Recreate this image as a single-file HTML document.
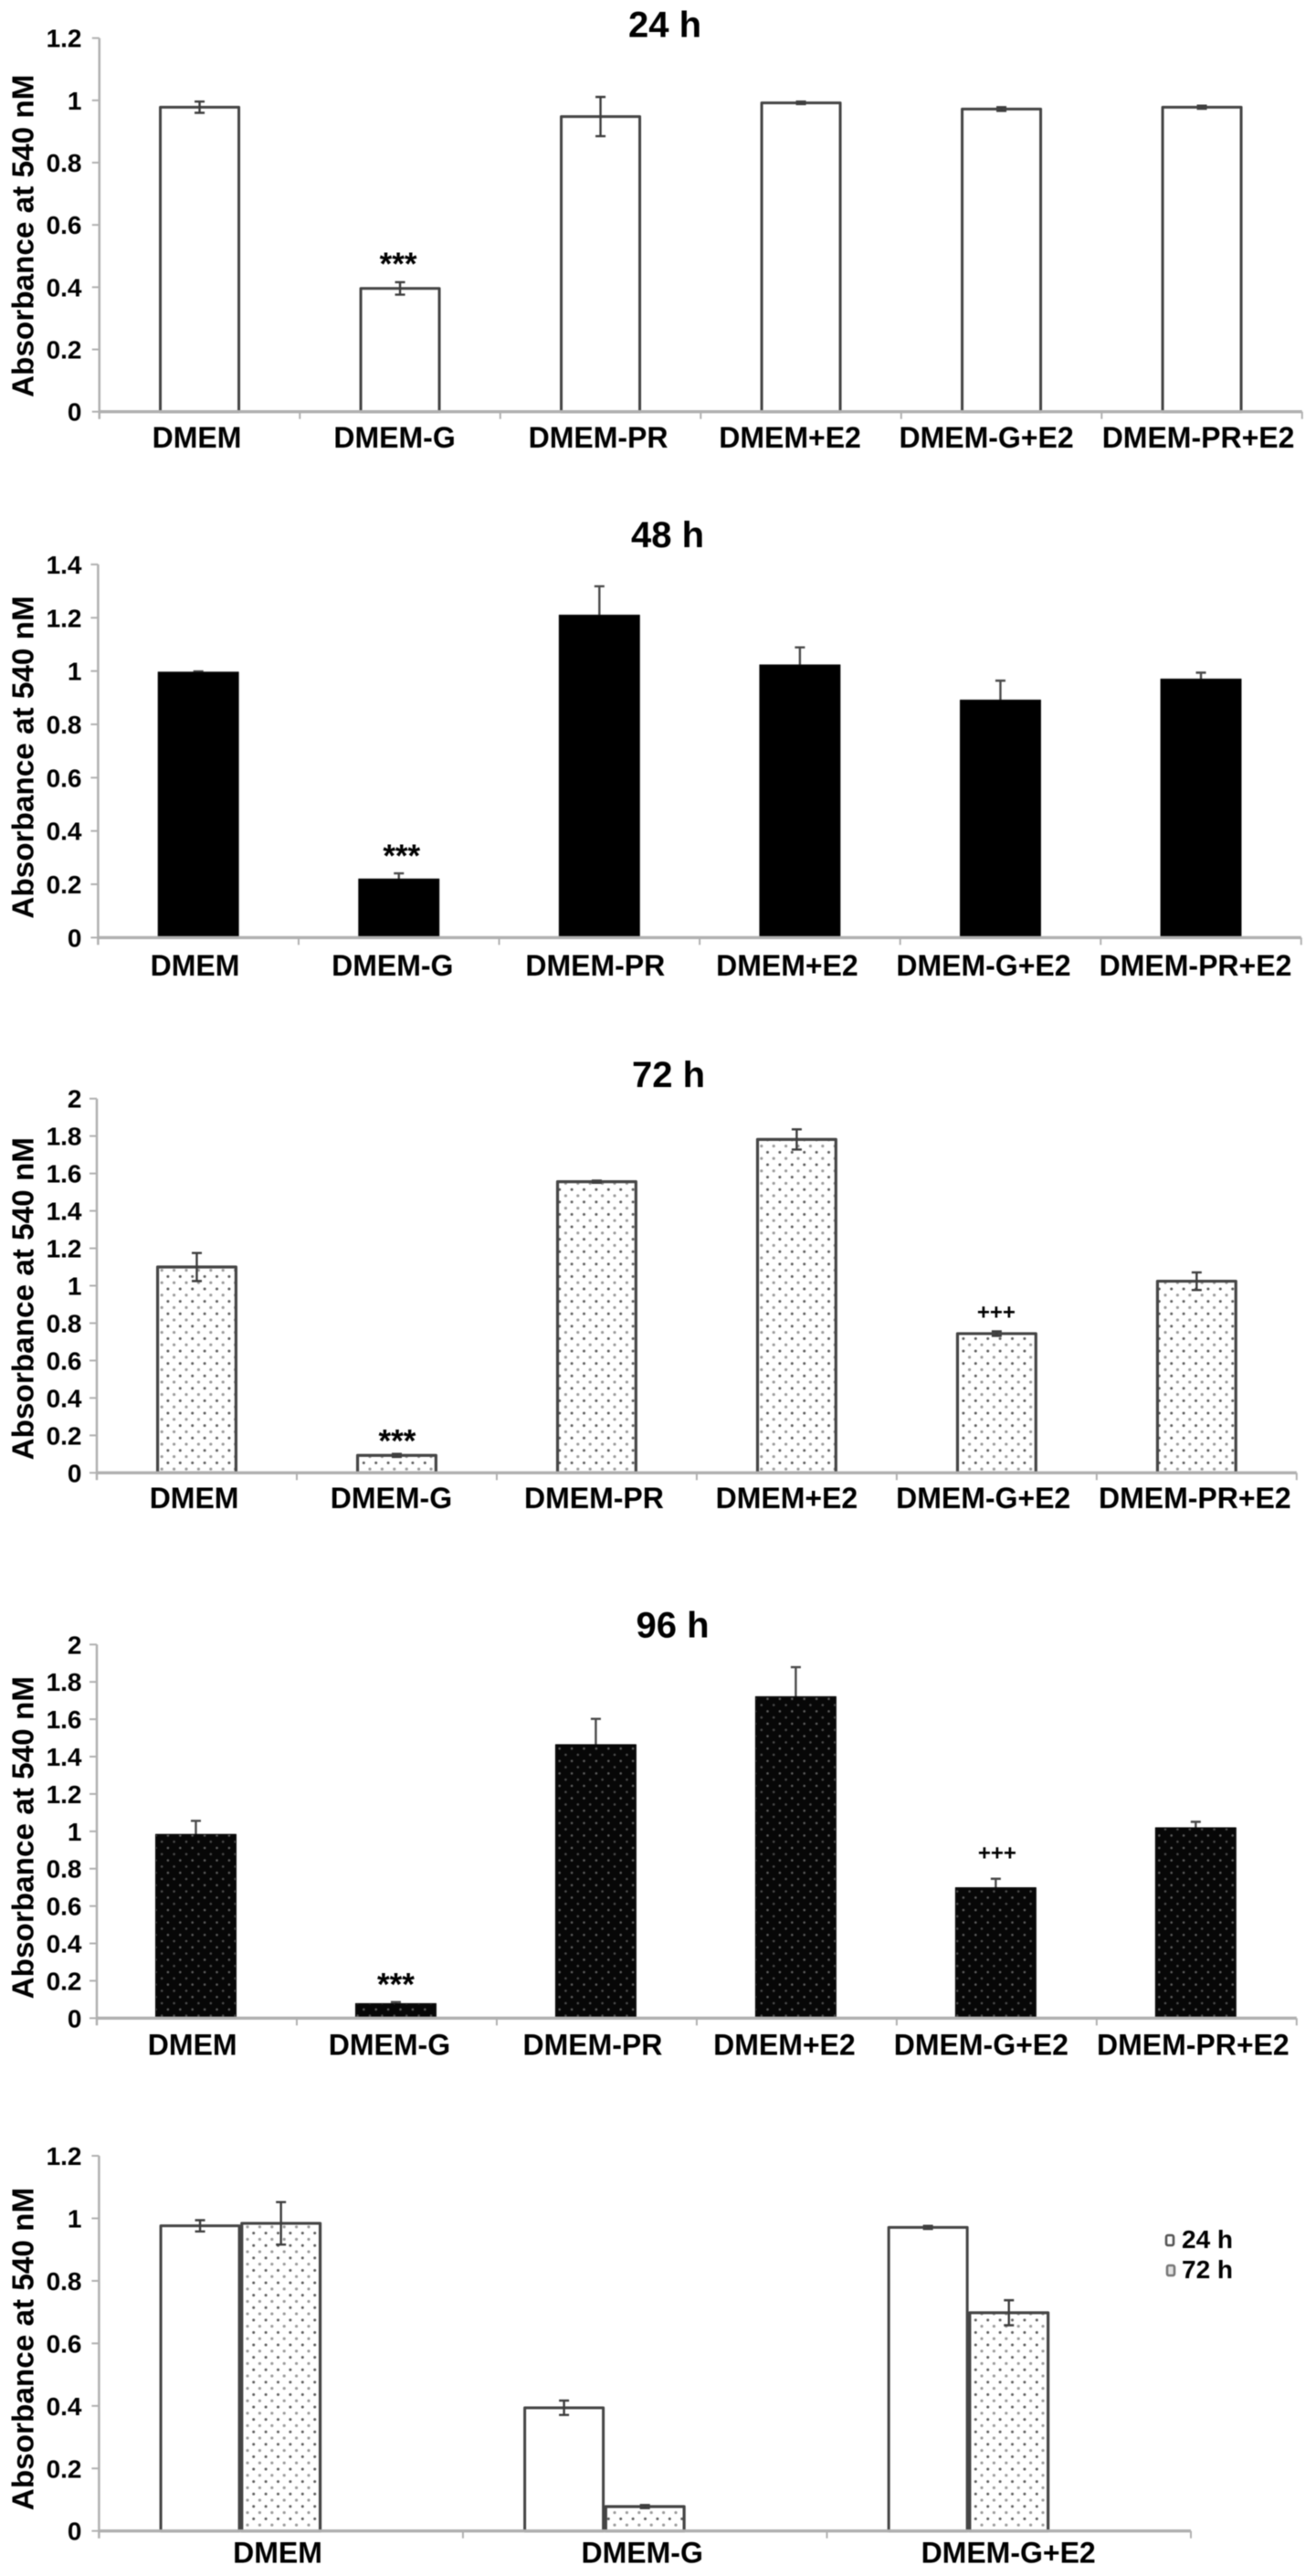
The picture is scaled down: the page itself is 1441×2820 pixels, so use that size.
<!DOCTYPE html>
<html lang="en">
<head>
<meta charset="utf-8">
<title>Absorbance at 540 nM over time</title>
<style>
html,body{margin:0;padding:0;background:#fff;}
svg{display:block;filter:blur(0.5px);}
text{font-family:"Liberation Sans",Arial,sans-serif;font-weight:bold;fill:#000;}
</style>
</head>
<body>
<svg id="figure" xmlns="http://www.w3.org/2000/svg" width="1441" height="2820" viewBox="0 0 1441 2820">
  <defs>
    <pattern id="dots-light" patternUnits="userSpaceOnUse" width="13.4" height="13.6">
      <rect width="13.4" height="13.6" fill="#fff"/>
      <circle cx="3" cy="3.4" r="1.6" fill="#9a9a9a"/>
      <circle cx="9.7" cy="10.2" r="1.5" fill="#5c5c5c"/>
    </pattern>
    <pattern id="dots-dark" patternUnits="userSpaceOnUse" width="13.4" height="13.6">
      <rect width="13.4" height="13.6" fill="#070707"/>
      <circle cx="3" cy="3.4" r="1.3" fill="#4c4c4c"/>
      <circle cx="9.7" cy="10.2" r="1.3" fill="#5e5e5e"/>
    </pattern>
  </defs>
</svg>
<script>
// ---- Chart data ----
const categoriesSix = ['DMEM', 'DMEM-G', 'DMEM-PR', 'DMEM+E2', 'DMEM-G+E2', 'DMEM-PR+E2'];
const categoriesThree = ['DMEM', 'DMEM-G', 'DMEM-G+E2'];

const ticks24h = ['0', '0.2', '0.4', '0.6', '0.8', '1', '1.2'];
const ticks48h = ['0', '0.2', '0.4', '0.6', '0.8', '1', '1.2', '1.4'];
const ticks72h = ['0', '0.2', '0.4', '0.6', '0.8', '1', '1.2', '1.4', '1.6', '1.8', '2'];
const ticks96h = ['0', '0.2', '0.4', '0.6', '0.8', '1', '1.2', '1.4', '1.6', '1.8', '2'];
const ticksCompare = ['0', '0.2', '0.4', '0.6', '0.8', '1', '1.2'];

const values24h = [0.978, 0.396, 0.948, 0.992, 0.972, 0.978];
const errors24h = [0.018, 0.020, 0.063, 0.004, 0.006, 0.005];

const values48h = [0.996, 0.220, 1.210, 1.023, 0.891, 0.970];
const errors48h = [0.003, 0.021, 0.108, 0.066, 0.073, 0.024];

const values72h = [1.100, 0.093, 1.556, 1.782, 0.744, 1.024];
const errors72h = [0.075, 0.008, 0.006, 0.054, 0.012, 0.047];

const values96h = [0.984, 0.078, 1.464, 1.721, 0.698, 1.019];
const errors96h = [0.072, 0.008, 0.138, 0.158, 0.048, 0.032];

const compareValues24h = [0.976, 0.394, 0.971];
const compareErrors24h = [0.018, 0.023, 0.005];
const compareValues72h = [0.984, 0.078, 0.698];
const compareErrors72h = [0.068, 0.005, 0.040];

const legendLabels = ['24 h', '72 h'];

// ---- Rendering ----
const SVG_NS = 'http://www.w3.org/2000/svg';
const root = document.getElementById('figure');

function make(tag, attrs, parent, content) {
  const node = document.createElementNS(SVG_NS, tag);
  for (const key in attrs) node.setAttribute(key, attrs[key]);
  if (content !== undefined) node.textContent = content;
  parent.appendChild(node);
  return node;
}

function drawPanel(panel) {
  const group = make('g', {}, root);
  
  

  const catWidth = (panel.xEnd - panel.xStart) / panel.categories.length;
  const yTickMax = parseFloat(panel.ticks[panel.ticks.length - 1]);
  const yScale = function (v) { return panel.yZero - (v / yTickMax) * (panel.yZero - panel.yTop); };
  const catStart = function (i) { return panel.xStart + i * catWidth; };
  const catCenter = function (i) { return catStart(i) + catWidth / 2; };
  const barCenter = function (i, s) { return catCenter(i) + panel.barShift + (s - (panel.slots - 1) / 2) * panel.barSlot; };

  if (panel.title) {
    const title = make('text', { x: panel.titleX, y: panel.titleY, 'text-anchor': 'middle', 'font-size': 40 }, group, panel.title);
    
    
  }

  const yTitle = make('text', { transform: 'translate(36.5 ' + panel.yTitleY + ') rotate(-90)', 'text-anchor': 'middle', 'font-size': 33.3 }, group, 'Absorbance at 540 nM');
  
  

  function drawError(seriesIndex, catIndex, value, err, color) {
    const x = barCenter(catIndex, seriesIndex);
    const capW = 5.5;
    const d = 'M' + x + ' ' + yScale(value + err) + 'V' + yScale(value - err) +
      'M' + (x - capW) + ' ' + yScale(value + err) + 'H' + (x + capW) +
      'M' + (x - capW) + ' ' + yScale(value - err) + 'H' + (x + capW);
    const bar = make('path', { d: d, stroke: color, 'stroke-width': 2.4, fill: 'none' }, group);
    
    
  }

  panel.series.forEach(function (series, s) {
    series.values.forEach(function (value, i) {
      const cx = barCenter(i, s);
      const top = yScale(value);
      if (series.dark) drawError(s, i, value, series.errors[i], '#4a4a4a');
      const inset = series.strokeWidth / 2;
      const rect = make('rect', {
        x: cx - panel.barWidth / 2 + inset, y: top,
        width: panel.barWidth - series.strokeWidth, height: panel.yZero - top,
        fill: series.fill, stroke: series.stroke, 'stroke-width': series.strokeWidth, 'stroke-linejoin': 'round'
      }, group);
      
      
    });
  });
  panel.series.forEach(function (series, s) {
    if (series.dark) return;
    series.values.forEach(function (value, i) {
      drawError(s, i, value, series.errors[i], '#3d3d3d');
    });
  });

  // axes
  const yAxis = make('line', { x1: panel.xStart, x2: panel.xStart, y1: panel.yTop, y2: panel.yZero + 8, stroke: '#b0b0b0', 'stroke-width': 2.5 }, group);
  
  
  const xAxis = make('line', { x1: panel.xStart, x2: panel.xEnd, y1: panel.yZero, y2: panel.yZero, stroke: '#b0b0b0', 'stroke-width': 3.4 }, group);
  
  

  panel.ticks.forEach(function (label) {
    const y = yScale(parseFloat(label));
    const tick = make('line', { x1: panel.xStart - 8, x2: panel.xStart, y1: y, y2: y, stroke: '#b0b0b0', 'stroke-width': 2 }, group);
    
    
    const text = make('text', { x: 89.5, y: y + 10, 'text-anchor': 'end', 'font-size': 28 }, group, label);
    
    
  });

  for (let i = 1; i <= panel.categories.length; i++) {
    const tx = catStart(i);
    const tick = make('line', { x1: tx, x2: tx, y1: panel.yZero, y2: panel.yZero + 8, stroke: '#b0b0b0', 'stroke-width': 2 }, group);
    
    
  }

  panel.categories.forEach(function (label, i) {
    const text = make('text', { x: catCenter(i) + panel.labelNudge[i], y: panel.labelY, 'text-anchor': 'middle', 'font-size': 32 }, group, label);
    
    
  });

  (panel.marks || []).forEach(function (mark) {
    const series = panel.series[0];
    const y = yScale(series.values[mark.cat] + series.errors[mark.cat]) - mark.gap;
    const text = make('text', { x: catCenter(mark.cat) + mark.dx, y: y, 'text-anchor': 'middle', 'font-size': mark.size }, group, mark.text);
    
    
  });
}

const lightBar = { fill: 'url(#dots-light)', stroke: '#444', strokeWidth: 3.2, dark: false };
const darkBar = { fill: 'url(#dots-dark)', stroke: '#0a0a0a', strokeWidth: 1, dark: true };

drawPanel({
  id: '24h', title: '24 h', titleX: 728, titleY: 40.7, yTitleY: 258.3,
  xStart: 108.8, xEnd: 1425.8, yZero: 450.7, yTop: 41.7, labelY: 490,
  barWidth: 89, barSlot: 89, slots: 1, barShift: 0,
  labelNudge: [-3, -6, -2.5, -12, -16.5, -4],
  categories: categoriesSix, ticks: ticks24h,
  series: [{ values: values24h, errors: errors24h, fill: '#fff', stroke: '#444', strokeWidth: 3, dark: false }],
  marks: [{ cat: 1, text: '***', size: 35, dx: -2, gap: 8 }]
});
drawPanel({
  id: '48h', title: '48 h', titleX: 731, titleY: 599, yTitleY: 829,
  xStart: 107.4, xEnd: 1424.8, yZero: 1026.4, yTop: 617.9, labelY: 1067.9,
  barWidth: 89, barSlot: 89, slots: 1, barShift: 0,
  labelNudge: [-3.7, -7, -4.5, -14, -18.5, -6],
  categories: categoriesSix, ticks: ticks48h,
  series: [{ values: values48h, errors: errors48h, fill: '#000', stroke: '#111', strokeWidth: 1, dark: true }],
  marks: [{ cat: 1, text: '***', size: 35, dx: 3, gap: 7 }]
});
drawPanel({
  id: '72h', title: '72 h', titleX: 732, titleY: 1190, yTitleY: 1421.7,
  xStart: 106, xEnd: 1419.8, yZero: 1612.3, yTop: 1202.7, labelY: 1651,
  barWidth: 89, barSlot: 89, slots: 1, barShift: 0,
  labelNudge: [-2.9, -6, -3, -11, -14.7, -2],
  categories: categoriesSix, ticks: ticks72h,
  series: [Object.assign({ values: values72h, errors: errors72h }, lightBar)],
  marks: [
    { cat: 1, text: '***', size: 35, dx: 0.5, gap: 2.2 },
    { cat: 4, text: '+++', size: 24, dx: -0.5, gap: 13.2 }
  ]
});
drawPanel({
  id: '96h', title: '96 h', titleX: 736.5, titleY: 1792.7, yTitleY: 2011.7,
  xStart: 106, xEnd: 1419.8, yZero: 2209.3, yTop: 1800.3, labelY: 2249.3,
  barWidth: 89, barSlot: 89, slots: 1, barShift: -1,
  labelNudge: [-4.8, -8, -4.5, -13.5, -17, -4],
  categories: categoriesSix, ticks: ticks96h,
  series: [Object.assign({ values: values96h, errors: errors96h }, darkBar)],
  marks: [
    { cat: 1, text: '***', size: 35, dx: -1, gap: 7.3 },
    { cat: 4, text: '+++', size: 24, dx: 0.5, gap: 20 }
  ]
});
drawPanel({
  id: 'comparison', title: '', yTitleY: 2571.5,
  xStart: 108.4, xEnd: 1304, yZero: 2770.7, yTop: 2360, labelY: 2805.7,
  barWidth: 89, barSlot: 88.6, slots: 3, barShift: 0,
  labelNudge: [-3.7, -3, -0.6],
  categories: categoriesThree, ticks: ticksCompare,
  series: [
    { values: compareValues24h, errors: compareErrors24h, fill: '#fff', stroke: '#444', strokeWidth: 3, dark: false },
    Object.assign({ values: compareValues72h, errors: compareErrors72h }, lightBar)
  ]
});

// legend
const legend = make('g', {}, root);


legendLabels.forEach(function (label, i) {
  const rowY = 2461 + i * 33;
  const swatch = make('rect', {
    x: 1277 + i, y: rowY - 14, width: 8, height: 11, rx: 2,
    fill: i === 0 ? '#fff' : '#e4e4e4', stroke: i === 0 ? '#555' : '#777', 'stroke-width': 2.6
  }, legend);
  
  
  const text = make('text', { x: 1294, y: rowY, 'font-size': 28 }, legend, label);
  
  
});
</script>
</body>
</html>
